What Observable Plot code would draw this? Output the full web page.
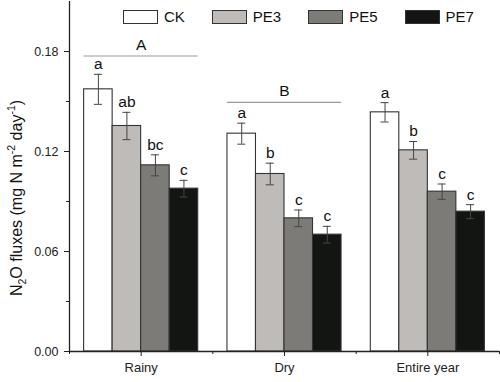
<!DOCTYPE html>
<html>
<head>
<meta charset="utf-8">
<script src="https://cdn.jsdelivr.net/npm/d3@7"></script>
<script src="https://cdn.jsdelivr.net/npm/@observablehq/plot@0.6"></script>
<style>
  html, body { margin: 0; padding: 0; background: #ffffff; }
  #wrap { position: relative; width: 500px; height: 382px; font-family: "Liberation Sans", Arial, sans-serif; }
  #legend { position: absolute; top: 8px; left: 123px; display: flex; align-items: center; font-size: 15px; color: #111; }
  .item { display: flex; align-items: center; margin-right: 27px; }
  .sw { width: 33px; height: 12px; border: 1px solid #333; margin-right: 6px; }
</style>
</head>
<body>
<div id="wrap"></div>
<script>
const periods = ["Rainy", "Dry", "Entire year"];
const series = ["CK", "PE3", "PE5", "PE7"];
const colors = ["#ffffff", "#bfbbb8", "#7d7b78", "#121512"];
const means = {
  Rainy: [0.1573, 0.1353, 0.1117, 0.0977],
  Dry: [0.1307, 0.1065, 0.0799, 0.0701],
  "Entire year": [0.1435, 0.1207, 0.0959, 0.0839]
};
const errs = {
  Rainy: [0.009, 0.0082, 0.0063, 0.005],
  Dry: [0.0063, 0.0065, 0.005, 0.005],
  "Entire year": [0.0058, 0.0053, 0.0046, 0.0042]
};
const letters = {
  Rainy: ["a", "ab", "bc", "c"],
  Dry: ["a", "b", "c", "c"],
  "Entire year": ["a", "b", "c", "c"]
};
const groupLabels = ["A", "B"];
const groupLevels = [0.1773, 0.1495];
const groupPeriods = ["Rainy", "Dry"];
const yTicks = [0, 0.06, 0.12, 0.18];
const yMinor = [0.03, 0.09, 0.15];

const barW = 0.199;
const data = [];
periods.forEach((p, g) => {
  series.forEach((s, i) => {
    const x1 = g + (i - 2) * barW;
    data.push({period: p, series: s, x1, x2: x1 + barW, xc: x1 + barW / 2,
      value: means[p][i], err: errs[p][i], letter: letters[p][i]});
  });
});
const groups = groupLabels.map((lab, k) => {
  const g = periods.indexOf(groupPeriods[k]);
  return {label: lab, x1: g - 2 * barW, x2: g + 2 * barW, xc: g, y: groupLevels[k]};
});
const capHalf = 0.028;
const font = "'Liberation Sans', Arial, sans-serif";

const chart = Plot.plot({
  width: 500,
  height: 382,
  marginLeft: 69,
  marginRight: 1,
  marginTop: 1,
  marginBottom: 31,
  style: {fontFamily: font, background: "transparent", color: "#222"},
  x: {type: "linear", domain: [-0.5, 2.5]},
  y: {domain: [0, 0.21]},
  color: {domain: series, range: colors},
  marks: [
    Plot.rectY(data, {x1: "x1", x2: "x2", y: "value", fill: "series", stroke: "#333", strokeWidth: 1.1}),
    Plot.ruleX(data, {x: "xc", y1: d => d.value - d.err, y2: d => d.value + d.err, stroke: "#444", strokeWidth: 1}),
    Plot.ruleY(data, {y: d => d.value + d.err, x1: d => d.xc - capHalf, x2: d => d.xc + capHalf, stroke: "#444", strokeWidth: 1}),
    Plot.ruleY(data, {y: d => d.value - d.err, x1: d => d.xc - capHalf, x2: d => d.xc + capHalf, stroke: "#444", strokeWidth: 1}),
    Plot.text(data, {x: "xc", y: d => d.value + d.err, text: "letter", dy: -10, fontSize: 15.5, fill: "#111"}),
    Plot.ruleY(groups, {y: "y", x1: "x1", x2: "x2", stroke: "#999", strokeWidth: 1.2}),
    Plot.text(groups, {x: "xc", y: "y", text: "label", dy: -11, fontSize: 15.5, fill: "#111"}),
    Plot.axisY({ticks: yTicks, tickSize: 5, tickFormat: d3.format(".2f"), fontSize: 12.5, tickPadding: 6, label: null, stroke: "#222"}),
    Plot.axisY({ticks: yMinor, tickSize: 3, tickFormat: () => "", label: null, stroke: "#222"}),
    Plot.axisX({ticks: [0, 1, 2], tickSize: 5, tickFormat: i => periods[i], fontSize: 13, tickPadding: 6, label: null, stroke: "#222"}),
    Plot.axisX({ticks: [-0.5, 0.5, 1.5, 2.5], tickSize: 3, tickFormat: () => "", label: null, stroke: "#222"}),
    Plot.ruleX([-0.5], {stroke: "#222", strokeWidth: 1.3}),
    Plot.ruleY([0], {stroke: "#222", strokeWidth: 1.3})
  ]
});

const wrap = document.getElementById("wrap");
wrap.appendChild(chart);

// y-axis title with sub/superscripts
const svg = d3.select(chart);
const t = svg.append("text")
  .attr("transform", "translate(22,198) rotate(-90)")
  .attr("text-anchor", "middle")
  .attr("font-size", 16)
  .attr("font-family", font)
  .attr("fill", "#111");
t.append("tspan").text("N");
t.append("tspan").attr("font-size", 10.5).attr("dy", 4).text("2");
t.append("tspan").attr("dy", -4).text("O fluxes (mg N m");
t.append("tspan").attr("font-size", 10.5).attr("dy", -7).text("-2");
t.append("tspan").attr("dy", 7).text(" day");
t.append("tspan").attr("font-size", 10.5).attr("dy", -7).text("-1");
t.append("tspan").attr("dy", 7).text(")");

// legend
const legend = document.createElement("div");
legend.id = "legend";
series.forEach((s, i) => {
  const it = document.createElement("div");
  it.className = "item";
  const sw = document.createElement("div");
  sw.className = "sw";
  sw.style.background = colors[i];
  const lb = document.createElement("span");
  lb.textContent = s;
  it.appendChild(sw);
  it.appendChild(lb);
  legend.appendChild(it);
});
wrap.appendChild(legend);
</script>
</body>
</html>
